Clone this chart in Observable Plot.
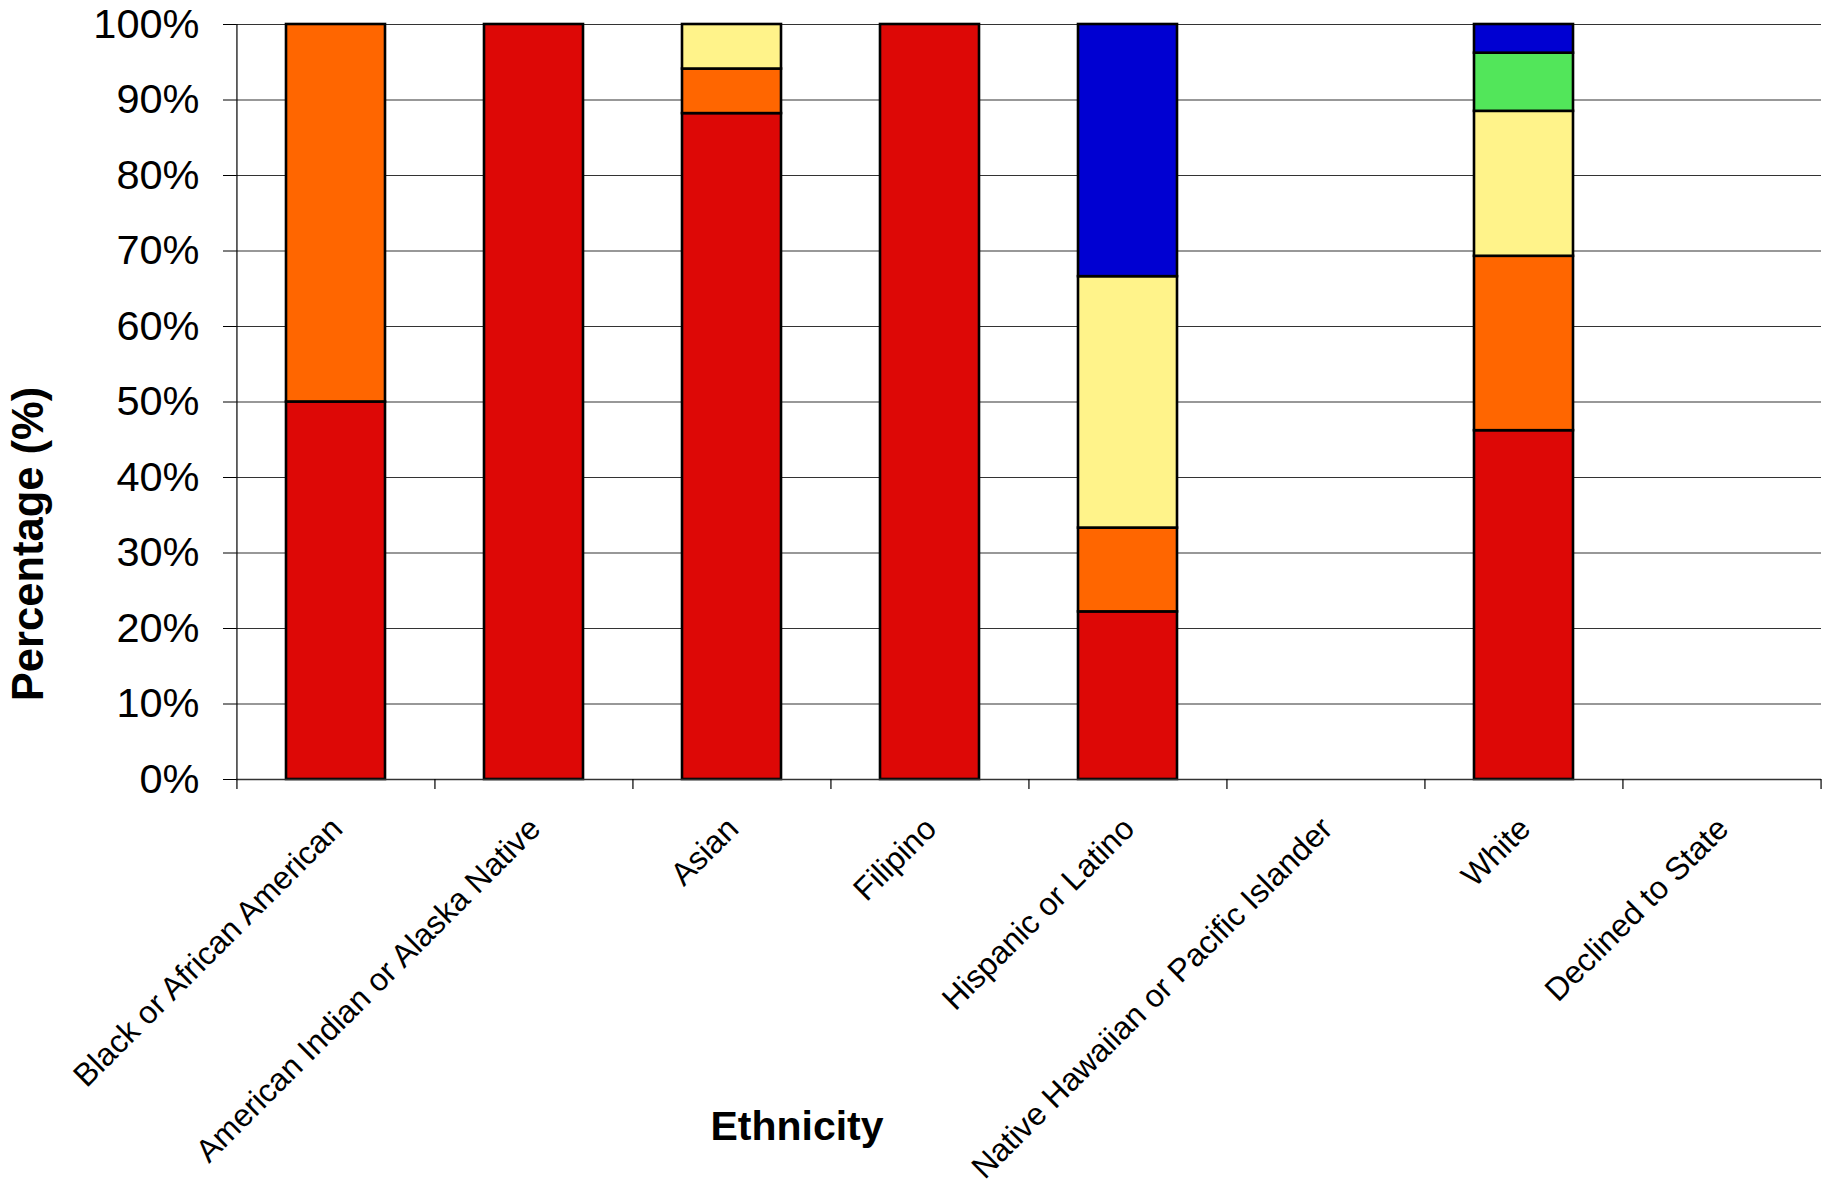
<!DOCTYPE html>
<html>
<head>
<meta charset="utf-8">
<script src="https://cdn.jsdelivr.net/npm/d3@7"></script>
<script src="https://cdn.jsdelivr.net/npm/@observablehq/plot@0.6"></script>
<style>
  html, body { margin: 0; padding: 0; background: #fff; }
</style>
</head>
<body>
<div id="chart"></div>
<script>
const categories = [
  "Black or African American",
  "American Indian or Alaska Native",
  "Asian",
  "Filipino",
  "Hispanic or Latino",
  "Native Hawaiian or Pacific Islander",
  "White",
  "Declined to State"
];
const seriesNames = ["Band 1", "Band 2", "Band 3", "Band 4", "Band 5"];
const seriesColors = ["#DD0806", "#FF6600", "#FFF38A", "#52E65A", "#0000D2"];
const band1 = [50, 100, 88.2, 100, 22.2, 0, 46.2, 0];
const band2 = [50, 0, 5.9, 0, 11.1, 0, 23.1, 0];
const band3 = [0, 0, 5.9, 0, 33.3, 0, 19.2, 0];
const band4 = [0, 0, 0, 0, 0, 0, 7.7, 0];
const band5 = [0, 0, 0, 0, 33.4, 0, 3.8, 0];
const yTicks = [0, 10, 20, 30, 40, 50, 60, 70, 80, 90, 100];
const yTitle = "Percentage (%)";
const xTitle = "Ethnicity";

const seriesValues = [band1, band2, band3, band4, band5];
const data = [];
categories.forEach((c, i) => {
  seriesNames.forEach((s, j) => {
    const v = seriesValues[j][i];
    if (v > 0) data.push({category: c, series: s, value: v});
  });
});

const W = 1831, H = 1184;
const mL = 236, mR = 10, mT = 24, mB = 405;
const step = (W - mL - mR) / categories.length;
const font = "'Liberation Sans', Arial, Helvetica, sans-serif";

const chart = Plot.plot({
  width: W,
  height: H,
  marginLeft: mL,
  marginRight: mR,
  marginTop: mT,
  marginBottom: mB,
  style: {fontFamily: font, background: "#fff", color: "#000"},
  x: {domain: categories, paddingInner: 0.5, paddingOuter: 0.25, label: null},
  y: {domain: [0, 100], label: null},
  color: {domain: seriesNames, range: seriesColors},
  marks: [
    Plot.ruleY(yTicks.filter(d => d > 0), {stroke: "#333", strokeWidth: 1.2}),
    Plot.barY(data, {x: "category", y: "value", fill: "series", stroke: "#000", strokeWidth: 2.6}),
    Plot.ruleY([0], {stroke: "#333", strokeWidth: 1.5}),
    Plot.ruleX(categories, {x: d => d, y1: -1.33, y2: d => d === categories[0] ? 100 : 0, dx: -step / 2, stroke: "#000", strokeWidth: 1.2}),
    Plot.ruleX([categories[categories.length - 1]], {x: d => d, y1: -1.33, y2: 0, dx: step / 2, stroke: "#000", strokeWidth: 1.2}),
    Plot.axisY({ticks: yTicks, tickFormat: d => d + "%", tickSize: 13, tickPadding: 24, fontSize: 41.5, label: null}),
    Plot.axisX({tickSize: 0, tickRotate: -45, tickPadding: 44, fontSize: 32, dx: 1, label: null})
  ]
});

const svg = d3.select(chart);
svg.append("text")
  .attr("transform", `translate(28,544) rotate(-90)`)
  .attr("text-anchor", "middle")
  .attr("dy", "0.35em")
  .attr("font-family", font)
  .attr("font-size", 43.5)
  .attr("font-weight", "bold")
  .attr("fill", "#000")
  .text(yTitle);
svg.append("text")
  .attr("x", 797)
  .attr("y", 1126)
  .attr("text-anchor", "middle")
  .attr("dy", "0.35em")
  .attr("font-family", font)
  .attr("font-size", 41)
  .attr("font-weight", "bold")
  .attr("fill", "#000")
  .text(xTitle);

document.getElementById("chart").appendChild(chart);
</script>
</body>
</html>
